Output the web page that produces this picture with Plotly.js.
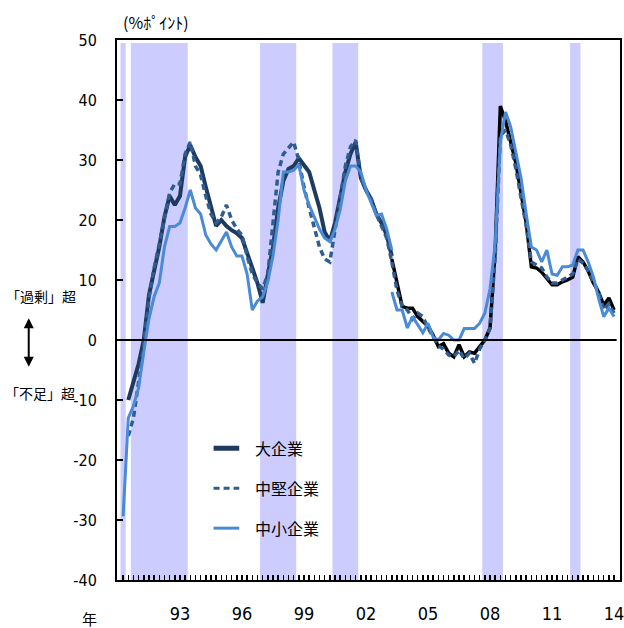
<!DOCTYPE html>
<html>
<head>
<meta charset="utf-8">
<script src="https://cdn.plot.ly/plotly-3.0.1.min.js"></script>
<style>
html,body{margin:0;padding:0;background:#fff;}
#chart{width:624px;height:628px;}
</style>
</head>
<body>
<div id="chart"></div>
<script>
// Quarterly categories: index 0 = first quarter shown; series break (old/new basis) at index 52
const NEW_BASIS_START = 52;

// Old basis series (index 0..52)
const largeOld = [null, -10, -7, -4, 0, 7.5, 11.5, 15.5, 20.5, 24, 22.5, 24, 30.5, 32.5, 30.5, 29, 25.5, 22, 19, 20, 19, 18.3, 17.8, 17, 14.5, 11.5, 9.5, 6.2, 10.5, 15.5, 22, 26.5, 28.5, 29, 30.3, 29, 28, 25, 22, 18, 16.5, 19.5, 23.5, 28, 31, 33, 27, 25, 23.5, 21, 19.5, 17.5, 14];
const midOld   = [null, -16, -13, -7, -1, 7, 12, 16, 20.5, 24.5, 26, 26, 31, 33, 29, 27.5, 24, 21, 19.5, 20.5, 22.5, 20, 18.5, 17.5, 14, 11, 9.5, 8.5, 11, 20, 28, 31, 32, 33, 30, 25.5, 22, 18.5, 15.5, 13.5, 13, 18.3, 24, 29, 32.2, 33.3, 27, 25, 23.5, 21, 19, 17, 13];
const smallOld = [-29.4, -13, -11, -8, -2, 3.5, 7.2, 9.5, 15.5, 18.9, 18.9, 19.5, 22, 25, 22, 21, 17.5, 16, 15, 16.5, 18, 15.5, 14, 14, 11, 5, 6.5, 7.2, 9.7, 14, 20, 28, 28, 28.3, 29.2, 25, 22.5, 20.5, 18.5, 17, 16.4, 18.5, 21.7, 26.5, 29, 29, 28, 25, 23, 20.8, 21, 18.5, 15];

// New basis series (index 52..95)
const largeNew = [13.5, 9.5, 5.6, 5.3, 5.3, 3.9, 3, 2.3, 0.8, -1.1, -0.6, -2.2, -2.8, -0.8, -2.8, -2, -2.2, -1, 0, 2, 15, 39, 36.5, 33, 29.5, 24.5, 19.5, 12.2, 12, 11.3, 10.3, 9.2, 9.2, 9.7, 10, 10.5, 13.9, 13, 11.5, 9.5, 8, 5.8, 7, 5];
const midNew   = [13, 8.3, 5.6, 5, 3.5, 4.5, 3.9, 2, 0.5, -1, -1.5, -2.5, -2.8, -1.7, -3.1, -2.2, -3.9, -1.5, 0, 2, 14, 34, 35, 32.5, 28.5, 24, 19, 13, 12.5, 12, 10.5, 9.5, 9.5, 10, 10.5, 11, 13.5, 12.8, 11.5, 9.8, 8, 5, 6, 4.5];
const smallNew = [8, 5, 5, 2, 3.9, 2.5, 1.2, 2.8, 0.5, 0, 1.1, 0.8, 0, 0, 1.9, 1.9, 1.9, 2.8, 4.5, 8.5, 16, 33, 38, 35.5, 31.5, 27, 21, 15.5, 15, 13, 15, 11, 10.8, 12.2, 12.2, 12.5, 15, 15, 13, 10.5, 7, 3.9, 5.3, 3.9];

// Shaded periods (first and last quarter index, inclusive)
const shadeStart = [0, 2, 27, 41, 70, 87];
const shadeEnd   = [0, 12, 33, 45, 73, 88];

// Year tick labels and their quarter index
const tickIdx  = [11, 23, 35, 47, 59, 71, 83, 95];
const tickText = ['93', '96', '99', '02', '05', '08', '11', '14'];

// Value axis tick labels
const yTickVals = [-40, -30, -20, -10, 0, 10, 20, 30, 40, 50];
const yTickText = ['-40', '-30', '-20', '-10', '0', '10', '20', '30', '40', '50'];

const seriesNames = ['大企業', '中堅企業', '中小企業'];

const C_LARGE = '#1f3a5f', C_MID = '#2f5d92', C_SMALL = '#4a8ad6';

function xs(arr, start) { return arr.map((_, i) => start + i); }

const traces = [
  {x: xs(largeOld, 0), y: largeOld, mode: 'lines', line: {color: C_LARGE, width: 4}},
  {x: xs(largeNew, NEW_BASIS_START), y: largeNew, mode: 'lines', line: {color: '#000000', width: 3.5}},
  {x: xs(midOld, 0), y: midOld, mode: 'lines', line: {color: C_MID, width: 3.5, dash: '6px,4px'}},
  {x: xs(midNew, NEW_BASIS_START), y: midNew, mode: 'lines', line: {color: C_MID, width: 3.5, dash: '6px,4px'}},
  {x: xs(smallOld, 0), y: smallOld, mode: 'lines', line: {color: C_SMALL, width: 3}},
  {x: xs(smallNew, NEW_BASIS_START), y: smallNew, mode: 'lines', line: {color: C_SMALL, width: 3}}
].map(t => Object.assign(t, {showlegend: false, hoverinfo: 'skip', connectgaps: false}));

const shapes = [];
for (let k = 0; k < shadeStart.length; k++) {
  shapes.push({type: 'rect', xref: 'x', yref: 'y', x0: shadeStart[k] - 0.5, x1: shadeEnd[k] + 0.5,
    y0: -40, y1: 49.5, fillcolor: '#ccccff', line: {width: 0}, layer: 'below'});
}
// zero line
shapes.push({type: 'line', xref: 'paper', yref: 'y', x0: 0, x1: (95.5 + 1.18) / (96.15 + 1.18), y0: 0, y1: 0,
  line: {color: '#000', width: 2}, layer: 'above'});

// manual legend
const legY = [0.244, 0.170, 0.096];
const legStyles = [
  {color: C_LARGE, width: 5, dash: 'solid'},
  {color: C_MID, width: 3, dash: '6px,4px'},
  {color: C_SMALL, width: 3, dash: 'solid'}
];
const annotations = [];
for (let k = 0; k < 3; k++) {
  shapes.push({type: 'line', xref: 'paper', yref: 'paper', x0: 0.192, x1: 0.243, y0: legY[k], y1: legY[k], line: legStyles[k]});
  annotations.push({xref: 'paper', yref: 'paper', x: 0.270, y: legY[k], xanchor: 'left', yanchor: 'middle',
    text: seriesNames[k], showarrow: false, font: {family: 'Noto Sans CJK JP', size: 16, color: '#000'}});
}

annotations.push(
  {xref: 'paper', yref: 'paper', x: 0.077, y: 1.033, xanchor: 'center', yanchor: 'middle', text: '(%ﾎﾟｲﾝﾄ)', showarrow: false,
   font: {family: 'Noto Sans CJK JP', size: 16, color: '#000'}},
  {xref: 'paper', yref: 'paper', x: -0.1516, y: 0.526, xanchor: 'center', yanchor: 'middle', text: '「過剰」超', showarrow: false,
   font: {family: 'Noto Sans CJK JP', size: 14, color: '#000'}},
  {xref: 'paper', yref: 'paper', x: -0.1536, y: 0.346, xanchor: 'center', yanchor: 'middle', text: '「不足」超', showarrow: false,
   font: {family: 'Noto Sans CJK JP', size: 14, color: '#000'}},
  {xref: 'paper', yref: 'paper', x: -0.1755, y: 0.395, ax: 0, ay: -50, text: '', showarrow: true,
   arrowhead: 2, startarrowhead: 2, arrowside: 'end+start', arrowwidth: 2, arrowsize: 1, arrowcolor: '#000'},
  {xref: 'paper', yref: 'paper', x: -0.054, y: -0.072, xanchor: 'center', yanchor: 'middle', text: '年', showarrow: false,
   font: {family: 'Noto Sans CJK JP', size: 15, color: '#000'}}
);

const numFont = 'Liberation Sans Narrow, DejaVu Sans Condensed, Arial Narrow, sans-serif';

const layout = {
  width: 624, height: 628,
  margin: {l: 117, r: 4, t: 40, b: 48, pad: 0},
  paper_bgcolor: '#fff', plot_bgcolor: '#fff',
  xaxis: {
    range: [-1.18, 96.15], showgrid: false, zeroline: false,
    showline: true, linecolor: '#000', linewidth: 2, mirror: true,
    tickmode: 'array', tickvals: tickIdx, ticktext: tickText,
    ticks: 'inside', ticklen: 5, tickwidth: 1.5, tickcolor: '#000',
    ticklabelstandoff: 16, ticklabeloverflow: 'allow',
    minor: {tickmode: 'linear', tick0: 0, dtick: 1, ticks: 'inside', ticklen: 5, tickwidth: 1.5, tickcolor: '#000', showgrid: false},
    tickfont: {family: numFont, size: 18, color: '#000'}
  },
  yaxis: {
    range: [-40, 50], tickmode: 'array', tickvals: yTickVals, ticktext: yTickText,
    showgrid: false, zeroline: false,
    showline: true, linecolor: '#000', linewidth: 2, mirror: true,
    ticks: 'inside', ticklen: 6, tickwidth: 2, tickcolor: '#000',
    ticklabelstandoff: 15,
    tickfont: {family: numFont, size: 16, color: '#000'}
  },
  shapes: shapes,
  annotations: annotations
};

Plotly.newPlot('chart', traces, layout, {staticPlot: true, displayModeBar: false});
</script>
</body>
</html>
